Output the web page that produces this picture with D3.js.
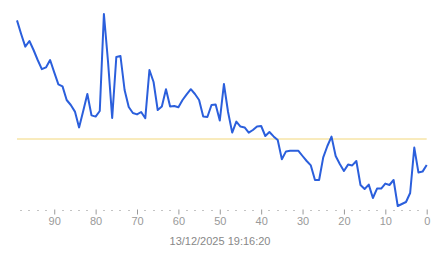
<!DOCTYPE html>
<html>
<head>
<meta charset="utf-8">
<script src="https://cdn.jsdelivr.net/npm/d3@7/dist/d3.min.js"></script>
<style>
html,body{margin:0;padding:0;background:#fff;}
svg{display:block;}
</style>
</head>
<body>
<svg id="chart" width="443" height="258"></svg>
<script>
// x positions (ago) from 99 down to 0
const ago = d3.range(99, -1, -1);
const values = [
109.3,102.5,96.2,99,94.5,89.5,84.9,85.8,89.5,83.3,
77.3,76.3,69.5,67,63.7,55.8,64,72.5,61.8,61.2,
64,112.5,88.5,60.5,91,91.5,74.5,66,63,62.3,
63.5,60.4,84.5,78.5,64.5,66.3,74.9,66.2,66.5,65.9,
69.5,72.3,74.9,72.5,69.5,61.2,61,67,67.2,59.2,
77.5,63.5,53.2,58.7,56.2,55.8,53.2,54.5,56.3,56.5,
51.5,53.5,51.3,49.5,39.9,43.8,44.1,44.1,44.1,41.5,
39,36.8,29.5,29.5,40.8,46.5,51.2,41.5,37.5,34,
37.2,36.8,39,27,25,27.2,20.5,25.2,25.2,27.7,
27,29.5,16.5,17.5,18.5,23,45.7,33.3,33.7,37
];
const threshold = 50;
const majorTicks = [90,80,70,60,50,40,30,20,10,0];
const minorTicks = d3.range(0, 100, 2);
const title = "13/12/2025 19:16:20";

const svg = d3.select("#chart");
const x = d3.scaleLinear().domain([0, 99]).range([426.7, 17]);
const y = d3.scaleLinear().domain([50, 100]).range([139, 39]);

// threshold line
svg.append("line")
  .attr("x1", x(99)).attr("x2", x(0))
  .attr("y1", y(threshold)).attr("y2", y(threshold))
  .attr("stroke", "#f2d77a").attr("stroke-width", 1);

// data line
const data = ago.map((a, i) => ({a, v: values[i]}));
svg.append("path")
  .datum(data)
  .attr("fill", "none")
  .attr("stroke", "#2b5fdc")
  .attr("stroke-width", 2)
  .attr("stroke-linejoin", "round")
  .attr("d", d3.line().x(d => x(d.a)).y(d => y(d.v)));

// minor tick dots
const axisG = svg.append("g").attr("transform", "translate(0,210)");
axisG.selectAll("rect.minor")
  .data(minorTicks.filter(t => t % 10 !== 0))
  .join("rect")
  .attr("x", d => Math.round(x(d)) - 0.5)
  .attr("y", 0)
  .attr("width", 1).attr("height", 1)
  .attr("fill", "#888");

// major ticks via d3 axis
const axis = d3.axisBottom(x).tickValues(majorTicks).tickSize(5).tickPadding(3).tickFormat(d3.format("d"));
const ag = svg.append("g").attr("transform", "translate(0,209.5)").call(axis);
ag.select(".domain").remove();
ag.selectAll(".tick line").attr("stroke", "#999");
ag.selectAll(".tick text")
  .attr("fill", "#999")
  .attr("font-family", "Liberation Sans, Arial, sans-serif")
  .attr("font-size", 11);

svg.append("text")
  .attr("x", 220).attr("y", 245)
  .attr("text-anchor", "middle")
  .attr("fill", "#888")
  .attr("font-family", "Liberation Sans, Arial, sans-serif")
  .attr("font-size", 11)
  .text(title);
</script>
</body>
</html>
